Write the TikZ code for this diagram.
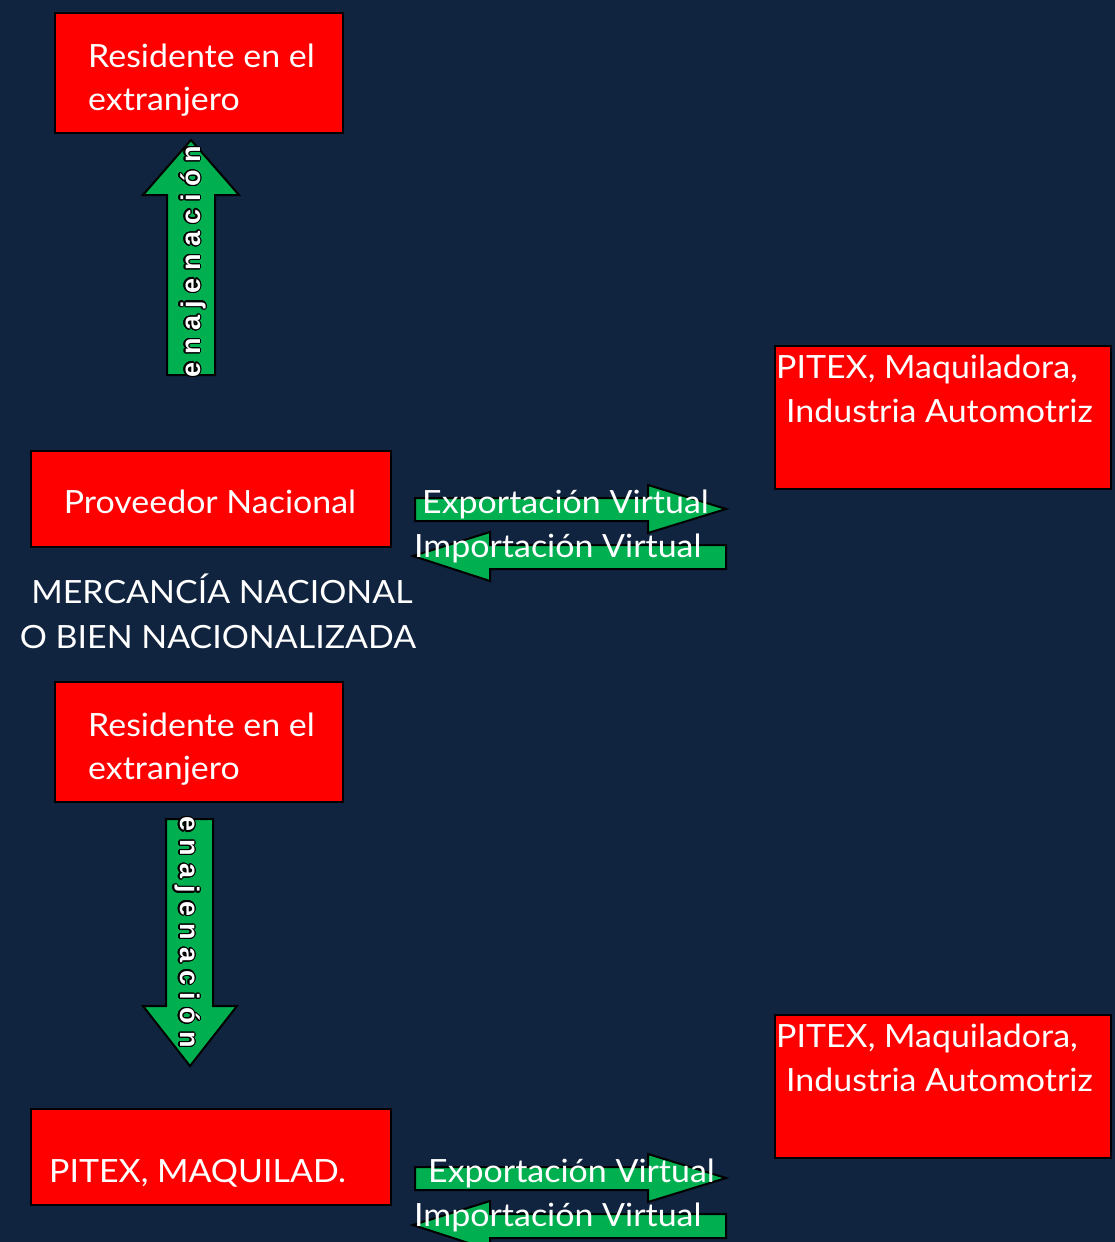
\documentclass[tikz,border=0pt]{standalone}
\usepackage{fontspec}
\setmainfont{Lato}[FakeStretch=1.06]
\newfontfamily\arrowfont{Liberation Sans}
\usepackage{contour}
\contourlength{1.1pt}
\contournumber{24}
\definecolor{bg}{HTML}{10233F}
\definecolor{boxred}{HTML}{FF0000}
\definecolor{arrowgreen}{HTML}{00B050}
\tikzset{
  redbox/.style={fill=boxred, draw=black, line width=2pt, inner sep=0pt, anchor=north west},
  blockarrow/.style={fill=arrowgreen, draw=black, line width=2pt, line join=miter},
  txt/.style={text=white, inner sep=0pt, font=\fontsize{32}{38}\selectfont},
  vtxt/.style={text=white, inner sep=0pt, font=\arrowfont\bfseries\fontsize{27}{30}\selectfont},
}
\begin{document}
\begin{tikzpicture}[x=1pt,y=-1pt]
\useasboundingbox (0,0) rectangle (1115,1242);
\clip (0,0) rectangle (1115,1242);
\fill[bg] (0,0) rectangle (1115,1242);

% red boxes
\node[redbox, minimum width=288pt, minimum height=120pt] (res1) at (54,12) {};
\node[redbox, minimum width=360pt, minimum height=96pt] (prov) at (30,450) {};
\node[redbox, minimum width=336pt, minimum height=143pt] (pitex1) at (774,345) {};
\node[redbox, minimum width=288pt, minimum height=120pt] (res2) at (54,681) {};
\node[redbox, minimum width=336pt, minimum height=143pt] (pitex2) at (774,1014) {};
\node[redbox, minimum width=360pt, minimum height=96pt] (maq) at (30,1108) {};

% vertical block arrows
\draw[blockarrow] (167,375) -- (167,195) -- (143,195) -- (191,140) -- (239,195) -- (215,195) -- (215,375) -- cycle;
\draw[blockarrow] (166,819) -- (213,819) -- (213,1006) -- (237,1006) -- (190,1066) -- (143,1006) -- (166,1006) -- cycle;

% horizontal block arrows, upper pair
\draw[blockarrow] (415,498) -- (648,498) -- (648,485) -- (726,509) -- (648,533) -- (648,521) -- (415,521) -- cycle;
\draw[blockarrow] (726,545) -- (490,545) -- (490,532) -- (413,556) -- (490,581) -- (490,569) -- (726,569) -- cycle;
% horizontal block arrows, lower pair
\draw[blockarrow] (415,1167) -- (648,1167) -- (648,1154) -- (726,1178) -- (648,1202) -- (648,1190) -- (415,1190) -- cycle;
\draw[blockarrow] (726,1214) -- (490,1214) -- (490,1201) -- (413,1225) -- (490,1250) -- (490,1238) -- (726,1238) -- cycle;

% labels on the vertical arrows
\node[vtxt, rotate=90, anchor=base] (en1) at (200,261.5) {\contour{black}{e n a j e n a c i ó n}};
\node[vtxt, rotate=-90, anchor=base] (en2) at (180,932.5) {\contour{black}{e n a j e n a c i ó n}};

% box texts
\node[txt, anchor=base west] (r1a) at (88,67) {Residente en el};
\node[txt, anchor=base west] (r1b) at (88,110) {extranjero};
\node[txt, anchor=base] (pn) at (210,513) {Proveedor Nacional};
\node[txt, anchor=base west] (p1a) at (776,378) {PITEX, Maquiladora,};
\node[txt, anchor=base west] (p1b) at (786,422) {Industria Automotriz};
\node[txt, anchor=base west] (r2a) at (88,736) {Residente en el};
\node[txt, anchor=base west] (r2b) at (88,779) {extranjero};
\node[txt, anchor=base west] (p2a) at (776,1047) {PITEX, Maquiladora,};
\node[txt, anchor=base west] (p2b) at (786,1091) {Industria Automotriz};
\node[txt, anchor=base west] (mq) at (49,1182) {PITEX, MAQUILAD.};

% free text
\node[txt, anchor=base] (m1) at (222,603) {MERCANCÍA NACIONAL};
\node[txt, anchor=base] (m2) at (218,648) {O BIEN NACIONALIZADA};

% arrow texts
\node[txt, anchor=base west] (ex1) at (422,513) {Exportación Virtual};
\node[txt, anchor=base west] (im1) at (414,557) {Importación Virtual};
\node[txt, anchor=base west] (ex2) at (428,1182) {Exportación Virtual};
\node[txt, anchor=base west] (im2) at (414,1226) {Importación Virtual};
\end{tikzpicture}
\end{document}
